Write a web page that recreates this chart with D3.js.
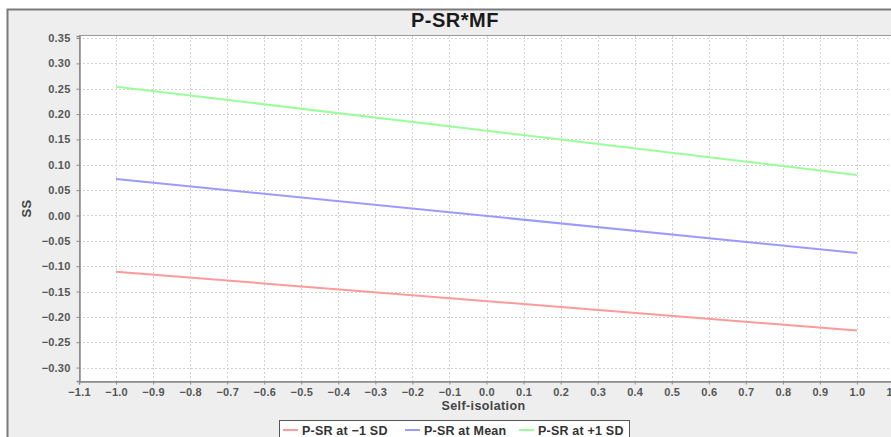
<!DOCTYPE html>
<html>
<head>
<meta charset="utf-8">
<script src="https://cdn.jsdelivr.net/npm/d3@7"></script>
<style>
  body { margin: 0; background: #fff; }
  svg { display: block; font-family: "Liberation Sans", Arial, sans-serif; }
</style>
</head>
<body>
<script>
// chart data
const seriesNames = ["P-SR at \u22121 SD", "P-SR at Mean", "P-SR at +1 SD"];
const xValues = [-1.0, 1.0];
const lowValues = [-0.111, -0.227];
const meanValues = [0.072, -0.074];
const highValues = [0.254, 0.080];
const xTicks = [-1.1, -1.0, -0.9, -0.8, -0.7, -0.6, -0.5, -0.4, -0.3, -0.2, -0.1, 0.0,
  0.1, 0.2, 0.3, 0.4, 0.5, 0.6, 0.7, 0.8, 0.9, 1.0, 1.1];
const yTicks = [0.35, 0.30, 0.25, 0.20, 0.15, 0.10, 0.05, 0.00, -0.05, -0.10, -0.15,
  -0.20, -0.25, -0.30];
const colors = ["#ff9a9a", "#9a9aff", "#9aff9a"];

const width = 891;
const height = 437;
const plot = {left: 79, right: 894, top: 36, bottom: 381};

const svg = d3.select('body')
  .append('svg')
  .attr('width', width)
  .attr('height', height);

// outer chart frame
svg.append('rect')
  .attr('x', 7.5).attr('y', 9.5)
  .attr('width', 905).attr('height', 440)
  .attr('fill', '#eeeeee')
  .attr('stroke', '#7a7a7a')
  .attr('stroke-width', 2);

const x = d3.scaleLinear().domain([-1.1, 1.1]).range([plot.left, plot.right]);
const y = d3.scaleLinear().domain([-0.3265, 0.354]).range([plot.bottom, plot.top]);

// plot background
svg.append('rect')
  .attr('x', plot.left).attr('y', plot.top)
  .attr('width', plot.right - plot.left).attr('height', plot.bottom - plot.top)
  .attr('fill', '#fff');

// grid
const grid = svg.append('g').attr('stroke', '#d2d2d2').attr('stroke-dasharray', '2,2');
grid.selectAll('line.v').data(xTicks.slice(1)).enter().append('line')
  .attr('x1', (d) => Math.round(x(d)) + 0.5).attr('x2', (d) => Math.round(x(d)) + 0.5)
  .attr('y1', plot.top).attr('y2', plot.bottom);
grid.selectAll('line.h').data(yTicks).enter().append('line')
  .attr('y1', (d) => Math.round(y(d)) + 0.5).attr('y2', (d) => Math.round(y(d)) + 0.5)
  .attr('x1', plot.left).attr('x2', plot.right);

// plot border
svg.append('rect')
  .attr('x', plot.left + 0.5).attr('y', plot.top - 0.5)
  .attr('width', plot.right - plot.left).attr('height', plot.bottom - plot.top + 1)
  .attr('fill', 'none')
  .attr('stroke', '#9a9a9a');

// axes
const xAxis = svg.append('g')
  .attr('transform', `translate(0,${plot.bottom + 0.5})`)
  .call(d3.axisBottom(x).tickValues(xTicks).tickSize(3).tickPadding(4)
    .tickFormat((d) => d3.format('.1f')(d).replace('-', '\u2212')));
const yAxis = svg.append('g')
  .attr('transform', `translate(${plot.left + 0.5},0)`)
  .call(d3.axisLeft(y).tickValues(yTicks).tickSize(3).tickPadding(6)
    .tickFormat((d) => d3.format('.2f')(d).replace('-', '\u2212')));

[xAxis, yAxis].forEach((a) => {
  a.select('.domain').attr('stroke', '#8a8a8a').attr('stroke-width', 1.5);
  a.selectAll('.tick line').attr('stroke', '#8a8a8a');
  a.selectAll('.tick text')
    .attr('fill', '#555')
    .attr('font-size', 11)
    .attr('font-weight', 'bold')
    .attr('letter-spacing', 0.2)
    .attr('font-family', '"Liberation Sans", Arial, sans-serif');
});

// series lines
const series = [lowValues, meanValues, highValues];
const line = d3.line().x((d, i) => x(xValues[i])).y((d) => y(d));
svg.append('g').selectAll('path').data(series).enter().append('path')
  .attr('d', (d) => line(d))
  .attr('fill', 'none')
  .attr('stroke', (d, i) => colors[i])
  .attr('stroke-width', 2);

// title
svg.append('text')
  .attr('x', 455).attr('y', 27)
  .attr('text-anchor', 'middle')
  .attr('font-size', 20)
  .attr('font-weight', 'bold')
  .attr('letter-spacing', 0.5)
  .attr('fill', '#1a1a1a')
  .text('P-SR*MF');

// axis titles
svg.append('text')
  .attr('x', (plot.left + plot.right) / 2 - 3).attr('y', 410)
  .attr('text-anchor', 'middle')
  .attr('font-size', 12.5)
  .attr('font-weight', 'bold')
  .attr('letter-spacing', 0.4)
  .attr('fill', '#444')
  .text('Self-isolation');

svg.append('text')
  .attr('transform', `translate(31,${(plot.top + plot.bottom) / 2}) rotate(-90)`)
  .attr('text-anchor', 'middle')
  .attr('font-size', 13)
  .attr('font-weight', 'bold')
  .attr('letter-spacing', 0.4)
  .attr('fill', '#444')
  .text('SS');

// legend
const legend = svg.append('g');
legend.append('rect')
  .attr('x', 279.5).attr('y', 420.5)
  .attr('width', 350).attr('height', 30)
  .attr('fill', '#fff')
  .attr('stroke', '#555');

const legendX = [283, 405, 519];
const items = legend.selectAll('g.item').data(seriesNames).enter().append('g')
  .attr('transform', (d, i) => `translate(${legendX[i]},430)`);
items.append('line')
  .attr('x1', 0).attr('x2', 15)
  .attr('stroke', (d, i) => colors[i])
  .attr('stroke-width', 2);
items.append('text')
  .attr('x', 19).attr('y', 4.5)
  .attr('font-size', 12.5)
  .attr('font-weight', 'bold')
  .attr('letter-spacing', 0.2)
  .attr('fill', '#333')
  .text((d) => d);
</script>
</body>
</html>
